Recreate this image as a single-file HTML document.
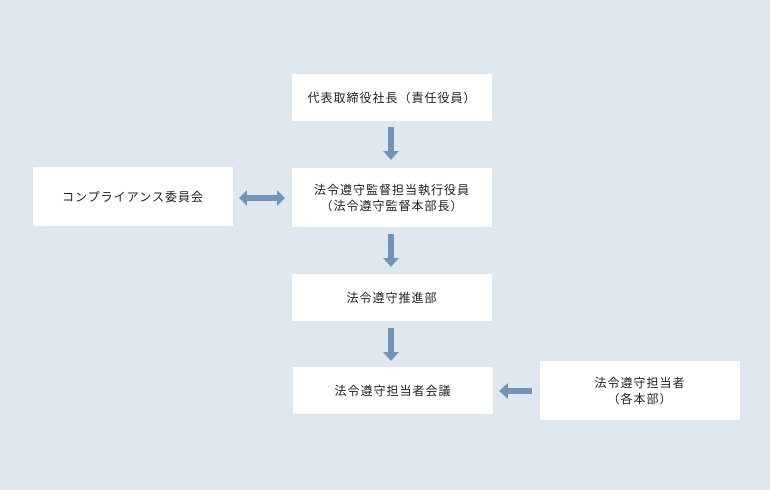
<!DOCTYPE html>
<html><head><meta charset="utf-8"><style>
body{margin:0;width:770px;height:490px;background:#dfe8f1;position:relative;overflow:hidden;font-family:"Liberation Sans","Noto Sans CJK JP",sans-serif;}
.b{position:absolute;background:#fff;width:200px;display:flex;align-items:center;justify-content:center;text-align:center;font-size:12px;line-height:16px;color:#222;letter-spacing:1px;}
svg{position:absolute;left:0;top:0}
</style></head><body>
<div class="b" style="left:292px;top:74px;height:47px">代表取締役社長（責任役員）</div>
<div class="b" style="left:292px;top:168px;height:59px">法令遵守監督担当執行役員<br>（法令遵守監督本部長）</div>
<div class="b" style="left:33px;top:167px;height:59px">コンプライアンス委員会</div>
<div class="b" style="left:292px;top:274px;height:47px">法令遵守推進部</div>
<div class="b" style="left:293px;top:367px;height:47px">法令遵守担当者会議</div>
<div class="b" style="left:540px;top:361px;height:59px">法令遵守担当者<br>（各本部）</div>
<svg width="770" height="490" fill="#7393b5">
<rect x="388" y="127" width="6" height="25"/><polygon points="383,151 399,151 391,160"/>
<rect x="388" y="234" width="6" height="25"/><polygon points="383,258 399,258 391,267"/>
<rect x="388" y="328" width="6" height="25"/><polygon points="383,352 399,352 391,361"/>
<rect x="246" y="195" width="32" height="6"/><polygon points="247,190 247,206 239,198"/><polygon points="277,190 277,206 285,198"/>
<rect x="507" y="388" width="25" height="6"/><polygon points="508,383 508,399 499,391"/>
</svg>
</body></html>
